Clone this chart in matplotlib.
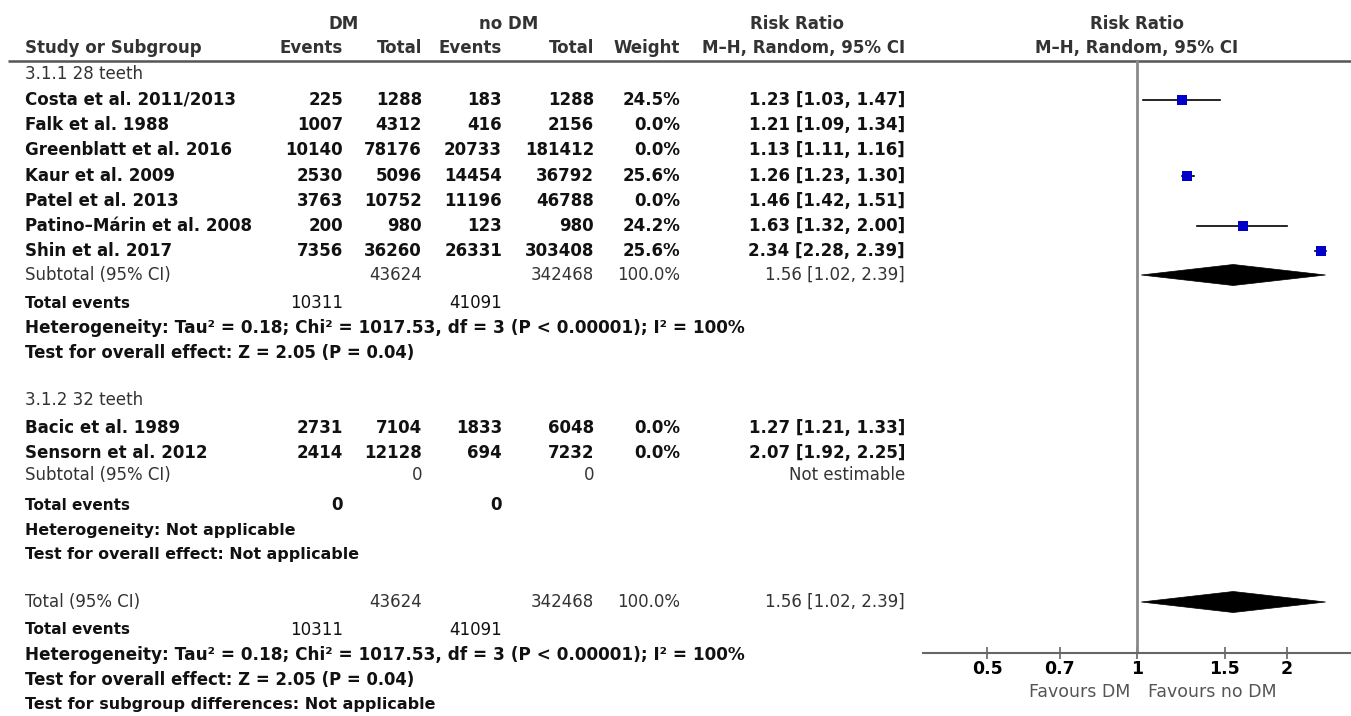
import matplotlib

matplotlib.use("Agg")
import matplotlib.pyplot as plt
import numpy as np
from matplotlib.patches import Polygon

W, H = 1351, 716

# ---- data ----
# subgroup 3.1.1 28 teeth
g1_studies = ["Costa et al. 2011/2013", "Falk et al. 1988", "Greenblatt et al. 2016",
              "Kaur et al. 2009", "Patel et al. 2013", "Patino–Márin et al. 2008", "Shin et al. 2017"]
g1_dm_events = [225, 1007, 10140, 2530, 3763, 200, 7356]
g1_dm_total = [1288, 4312, 78176, 5096, 10752, 980, 36260]
g1_nodm_events = [183, 416, 20733, 14454, 11196, 123, 26331]
g1_nodm_total = [1288, 2156, 181412, 36792, 46788, 980, 303408]
g1_weight = [24.5, 0.0, 0.0, 25.6, 0.0, 24.2, 25.6]
g1_rr = [1.23, 1.21, 1.13, 1.26, 1.46, 1.63, 2.34]
g1_lo = [1.03, 1.09, 1.11, 1.23, 1.42, 1.32, 2.28]
g1_hi = [1.47, 1.34, 1.16, 1.30, 1.51, 2.00, 2.39]

# subgroup 3.1.2 32 teeth
g2_studies = ["Bacic et al. 1989", "Sensorn et al. 2012"]
g2_dm_events = [2731, 2414]
g2_dm_total = [7104, 12128]
g2_nodm_events = [1833, 694]
g2_nodm_total = [6048, 7232]
g2_weight = [0.0, 0.0]
g2_rr = [1.27, 2.07]
g2_lo = [1.21, 1.92]
g2_hi = [1.33, 2.25]

# pooled estimates (rr, lo, hi)
sub1_pooled = [1.56, 1.02, 2.39]
total_pooled = [1.56, 1.02, 2.39]
sub1_totals = [43624, 342468]
sub1_events = [10311, 41091]
sub2_totals = [0, 0]
sub2_events = [0, 0]
all_totals = [43624, 342468]
all_events = [10311, 41091]

het_text = "Heterogeneity: Tau² = 0.18; Chi² = 1017.53, df = 3 (P < 0.00001); I² = 100%"
eff_text = "Test for overall effect: Z = 2.05 (P = 0.04)"

axis_ticks = [0.5, 0.7, 1, 1.5, 2]
axis_ticklabels = ["0.5", "0.7", "1", "1.5", "2"]

# ---- layout (pixel columns) ----
X_NAME = 25
X_DM_EV, X_DM_TOT = 343, 422
X_NO_EV, X_NO_TOT = 502, 594
X_WEIGHT, X_RR = 680, 905
DARK, GREY = "#111111", "#333333"
FS = 12.0
FS_EVENTS = 11.0
FS_HET = 12.2
FS_EFF = 11.9
FS_NA = 11.4

fig = plt.figure(figsize=(W / 100, H / 100), dpi=100)
tab = fig.add_axes([0, 0, 1, 1])
tab.set_xlim(0, W)
tab.set_ylim(H, 0)
tab.axis("off")


def put(x, y, s, ha="left", bold=True, size=FS, color=DARK):
    tab.text(x, y, s, ha=ha, va="center", fontsize=size,
             fontweight="bold" if bold else "normal", color=color)


# header
put(344, 24, "DM", ha="center", color=GREY)
put(509, 24, "no DM", ha="center", color=GREY)
put(797, 24, "Risk Ratio", ha="center", color=GREY)
put(1137, 24, "Risk Ratio", ha="center", color=GREY)
put(X_NAME, 48, "Study or Subgroup", color=GREY)
put(X_DM_EV, 48, "Events", ha="right", color=GREY)
put(X_DM_TOT, 48, "Total", ha="right", color=GREY)
put(X_NO_EV, 48, "Events", ha="right", color=GREY)
put(X_NO_TOT, 48, "Total", ha="right", color=GREY)
put(X_WEIGHT, 48, "Weight", ha="right", color=GREY)
put(X_RR, 48, "M–H, Random, 95% CI", ha="right", color=GREY)
put(1137, 48, "M–H, Random, 95% CI", ha="center", color=GREY)
tab.plot([8, W], [61, 61], color="#555555", lw=1.8, solid_capstyle="butt")

# forest axes: y in the same pixel units as the table
fx0, fx1, fy0, fy1 = 923, W, 61, 653
fa = fig.add_axes([fx0 / W, 1 - fy1 / H, (fx1 - fx0) / W, (fy1 - fy0) / H])
fa.set_facecolor("none")
fa.set_xscale("log")
fa.set_xlim(np.exp(-0.989), np.exp(0.989))
fa.set_ylim(fy1, fy0)
for side in ("top", "left", "right"):
    fa.spines[side].set_visible(False)
fa.spines["bottom"].set_color("#666666")
fa.spines["bottom"].set_linewidth(1.5)
fa.set_yticks([])
fa.set_xticks(axis_ticks)
fa.set_xticklabels(axis_ticklabels, fontweight="bold", fontsize=12.5)
fa.minorticks_off()
fa.tick_params(axis="x", direction="inout", length=8, width=1.2, color="#666666", pad=1)
fa.axvline(1, color="#8a8a8a", lw=2)


def study_rows(y0, names, dme, dmt, nde, ndt, wt, rr, lo, hi):
    y = y0
    for i in range(len(names)):
        put(X_NAME, y, names[i])
        put(X_DM_EV, y, str(dme[i]), ha="right")
        put(X_DM_TOT, y, str(dmt[i]), ha="right")
        put(X_NO_EV, y, str(nde[i]), ha="right")
        put(X_NO_TOT, y, str(ndt[i]), ha="right")
        put(X_WEIGHT, y, f"{wt[i]:.1f}%", ha="right")
        put(X_RR, y, f"{rr[i]:.2f} [{lo[i]:.2f}, {hi[i]:.2f}]", ha="right")
        if wt[i] > 0:
            fa.plot([lo[i], hi[i]], [y, y], color="black", lw=1.2)
            fa.plot(rr[i], y, marker="s", color="#0000c8", markersize=1.55 * np.sqrt(wt[i]),
                    markeredgewidth=0)
        y += 25.2
    return y


def diamond(y, est):
    rr, lo, hi = est
    fa.add_patch(Polygon([(lo, y), (rr, y - 10.5), (hi, y), (rr, y + 10.5)],
                         closed=True, facecolor="black", edgecolor="black", lw=0.5))


# subgroup 3.1.1
put(X_NAME, 74, "3.1.1 28 teeth", bold=False, color=GREY)
study_rows(100, g1_studies, g1_dm_events, g1_dm_total, g1_nodm_events, g1_nodm_total,
           g1_weight, g1_rr, g1_lo, g1_hi)
put(X_NAME, 275, "Subtotal (95% CI)", bold=False, color=GREY)
put(X_DM_TOT, 275, str(sub1_totals[0]), ha="right", bold=False, color=GREY)
put(X_NO_TOT, 275, str(sub1_totals[1]), ha="right", bold=False, color=GREY)
put(X_WEIGHT, 275, "100.0%", ha="right", bold=False, color=GREY)
put(X_RR, 275, f"{sub1_pooled[0]:.2f} [{sub1_pooled[1]:.2f}, {sub1_pooled[2]:.2f}]",
    ha="right", bold=False, color=GREY)
diamond(275, sub1_pooled)
put(X_NAME, 303, "Total events", size=FS_EVENTS)
put(X_DM_EV, 303, str(sub1_events[0]), ha="right", bold=False)
put(X_NO_EV, 303, str(sub1_events[1]), ha="right", bold=False)
put(X_NAME, 328, het_text, size=FS_HET)
put(X_NAME, 353, eff_text, size=FS_EFF)

# subgroup 3.1.2
put(X_NAME, 400, "3.1.2 32 teeth", bold=False, color=GREY)
study_rows(428, g2_studies, g2_dm_events, g2_dm_total, g2_nodm_events, g2_nodm_total,
           g2_weight, g2_rr, g2_lo, g2_hi)
put(X_NAME, 475, "Subtotal (95% CI)", bold=False, color=GREY)
put(X_DM_TOT, 475, str(sub2_totals[0]), ha="right", bold=False, color=GREY)
put(X_NO_TOT, 475, str(sub2_totals[1]), ha="right", bold=False, color=GREY)
put(X_RR, 475, "Not estimable", ha="right", bold=False, color=GREY)
put(X_NAME, 505, "Total events", size=FS_EVENTS)
put(X_DM_EV, 505, str(sub2_events[0]), ha="right")
put(X_NO_EV, 505, str(sub2_events[1]), ha="right")
put(X_NAME, 530, "Heterogeneity: Not applicable", size=FS_NA)
put(X_NAME, 555, "Test for overall effect: Not applicable", size=FS_NA)

# overall
put(X_NAME, 602, "Total (95% CI)", bold=False, color=GREY)
put(X_DM_TOT, 602, str(all_totals[0]), ha="right", bold=False, color=GREY)
put(X_NO_TOT, 602, str(all_totals[1]), ha="right", bold=False, color=GREY)
put(X_WEIGHT, 602, "100.0%", ha="right", bold=False, color=GREY)
put(X_RR, 602, f"{total_pooled[0]:.2f} [{total_pooled[1]:.2f}, {total_pooled[2]:.2f}]",
    ha="right", bold=False, color=GREY)
diamond(602, total_pooled)
put(X_NAME, 630, "Total events", size=FS_EVENTS)
put(X_DM_EV, 630, str(all_events[0]), ha="right", bold=False)
put(X_NO_EV, 630, str(all_events[1]), ha="right", bold=False)
put(X_NAME, 655, het_text, size=FS_HET)
put(X_NAME, 680, eff_text, size=FS_EFF)
put(X_NAME, 705, "Test for subgroup differences: Not applicable", size=11.5)

# favours labels under the axis
put(1130, 692, "Favours DM", ha="right", bold=False, size=12.5, color="#555555")
put(1148, 692, "Favours no DM", bold=False, size=12.5, color="#555555")

fig.savefig("out.png", dpi=100)
